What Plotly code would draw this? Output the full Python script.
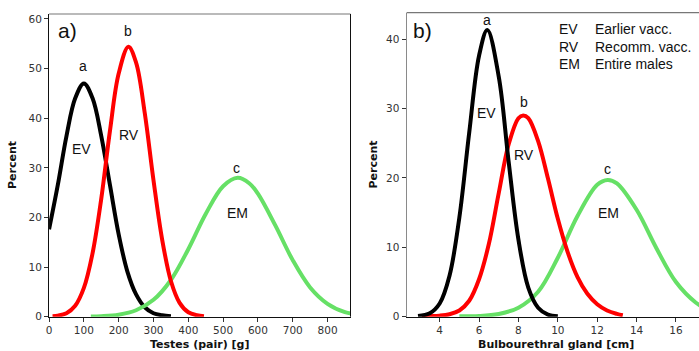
import plotly.graph_objects as go

# ---------------- data ----------------
# Panel a: testes (pair) weight [g] vs percent
a_ev_x = [0, 25, 50, 75, 100, 125, 150, 175, 200, 225, 250, 275, 300, 325, 350]
a_ev_y = [17.6, 26.5, 36.4, 44.0, 47.0, 44.0, 36.4, 26.5, 16.6, 9.1, 4.5, 1.9, 0.7, 0.3, 0.1]

a_rv_x = [10, 25, 50, 75, 100, 125, 150, 175, 200, 228, 250, 275, 300, 325, 350, 375, 400, 425, 445]
a_rv_y = [0.1, 0.2, 0.7, 2.2, 5.8, 12.8, 23.8, 37.5, 49.0, 54.4, 51.2, 41.0, 27.5, 15.5, 7.2, 2.8, 0.9, 0.3, 0.1]

a_em_x = [120, 150, 200, 250, 300, 350, 400, 450, 500, 542, 575, 600, 650, 700, 750, 800, 850, 870]
a_em_y = [0.05, 0.1, 0.4, 1.3, 3.4, 7.4, 13.6, 20.7, 26.3, 28.0, 26.9, 24.8, 18.4, 11.4, 5.9, 2.6, 0.9, 0.6]

# Panel b: bulbourethral gland length [cm] vs percent
b_ev_x = [2.9, 3.5, 4.0, 4.5, 5.0, 5.5, 6.0, 6.42, 7.0, 7.5, 8.0, 8.5, 9.0, 9.5, 10.0]
b_ev_y = [0.1, 0.5, 1.9, 5.9, 14.3, 26.5, 37.6, 41.3, 34.6, 22.4, 11.1, 4.2, 1.3, 0.3, 0.05]

b_rv_x = [3.1, 3.5, 4.0, 4.5, 5.0, 5.5, 6.0, 6.5, 7.0, 7.5, 8.0, 8.24, 8.5, 9.0, 9.5, 10.0, 10.5, 11.0, 11.5, 12.0, 12.5, 13.0, 13.3]
b_rv_y = [0.1, 0.1, 0.15, 0.35, 0.9, 2.3, 5.4, 10.5, 17.8, 24.8, 28.6, 29.0, 28.6, 25.3, 19.9, 14.1, 9.3, 5.7, 3.3, 1.8, 0.9, 0.4, 0.2]

b_em_x = [5.0, 6.0, 7.0, 8.0, 9.0, 10.0, 11.0, 12.0, 12.53, 13.0, 14.0, 15.0, 16.0, 17.0, 17.5]
b_em_y = [0.05, 0.1, 0.4, 1.3, 3.6, 8.5, 14.5, 19.0, 19.7, 19.2, 15.4, 9.9, 5.0, 2.05, 1.2]

a_xticks = [0, 100, 200, 300, 400, 500, 600, 700, 800]
a_yticks = [0, 10, 20, 30, 40, 50, 60]
b_xticks = [4, 6, 8, 10, 12, 14, 16]
b_yticks = [0, 10, 20, 30, 40]

legend_codes = ["EV", "RV", "EM"]
legend_names = ["Earlier vacc.", "Recomm. vacc.", "Entire males"]

# ---------------- styling ----------------
BLACK = "#000000"
RED = "#ff0000"
GREEN = "#66e066"
LW = 4
TICKFONT = dict(family="DejaVu Sans", size=10.5, color="#333333")
LABFONT = dict(family="Liberation Sans, Arial", size=14, color="#111111")
W, H = 699, 351   # design canvas (figure fills the browser window)

def px(x):
    return x / W

def py(y):
    return (H - y) / H

fig = go.Figure()

def add_curve(x, y, color, xa, ya):
    fig.add_trace(go.Scatter(x=x, y=y, mode="lines", line=dict(color=color, width=LW, shape="spline", smoothing=1.0),
                             xaxis=xa, yaxis=ya, showlegend=False, hoverinfo="skip"))

add_curve(a_ev_x, a_ev_y, BLACK, "x", "y")
add_curve(a_em_x, a_em_y, GREEN, "x", "y")
add_curve(a_rv_x, a_rv_y, RED, "x", "y")
add_curve(b_em_x, b_em_y, GREEN, "x2", "y2")
add_curve(b_rv_x, b_rv_y, RED, "x2", "y2")
add_curve(b_ev_x, b_ev_y, BLACK, "x2", "y2")

axis_common = dict(showgrid=False, zeroline=False, showline=True, linewidth=1, mirror=False,
                   ticks="outside", ticklen=4, tickcolor="#333333", tickfont=TICKFONT)

fig.update_layout(
    autosize=True,
    margin=dict(l=0, r=0, t=0, b=0, autoexpand=False),
    paper_bgcolor="white", plot_bgcolor="white",
    xaxis=dict(domain=[px(49), px(350)], range=[0, 866], tickvals=a_xticks, anchor="y", linecolor="#111111", **axis_common),
    yaxis=dict(domain=[py(316.7), py(14)], range=[0, 61], tickvals=a_yticks, anchor="x", linecolor="#111111", **axis_common),
    xaxis2=dict(domain=[px(406), 1.0], range=[2.32, 17.22], tickvals=b_xticks, anchor="y2", linecolor="#111111", **axis_common),
    yaxis2=dict(domain=[py(316.7), py(12.7)], range=[0, 43.8], tickvals=b_yticks, anchor="x2", linecolor="#8a8a8a", **axis_common),
)

# frame pieces (top lines grey, right edge of panel a black)
shapes = [
    dict(type="line", xref="x domain", yref="y domain", x0=0, x1=1, y0=1, y1=1, line=dict(color="#777777", width=1.2)),
    dict(type="line", xref="x domain", yref="y domain", x0=1, x1=1, y0=0, y1=1, line=dict(color="#111111", width=1)),
    dict(type="line", xref="x2 domain", yref="y2 domain", x0=0, x1=1, y0=1, y1=1, line=dict(color="#777777", width=1.2)),
]

ann = []
def text(x, y, s, font, xanchor="center", yanchor="middle", textangle=0):
    ann.append(dict(x=px(x), y=py(y), xref="paper", yref="paper", text=s, showarrow=False,
                    font=font, xanchor=xanchor, yanchor=yanchor, textangle=textangle))

TITLEFONT = dict(family="DejaVu Sans", size=11, color="#111111")
# axis titles
text(199, 344, "<b>Testes (pair) [g]</b>", TITLEFONT)
text(555, 344, "<b>Bulbourethral gland [cm]</b>", TITLEFONT)
text(12, 165, "<b>Percent</b>", TITLEFONT, textangle=-90)
text(372, 165, "<b>Percent</b>", TITLEFONT, textangle=-90)

# panel labels
PANELFONT = dict(family="Liberation Sans, Arial", size=21, color="#111111")
text(56, 31, "a)", PANELFONT, xanchor="left")
text(410, 31, "b)", PANELFONT, xanchor="left")

# curve labels panel a
text(82.7, 66, "a", LABFONT)
text(127.7, 31, "b", LABFONT)
text(236, 168, "c", LABFONT)
text(81.7, 149, "EV", LABFONT)
text(129.3, 135, "RV", LABFONT)
text(236.7, 213, "EM", LABFONT)
# curve labels panel b
text(486.7, 20, "a", LABFONT)
text(486, 112.7, "EV", LABFONT)
text(523.3, 102, "b", LABFONT)
text(523.3, 155, "RV", LABFONT)
text(606.7, 169, "c", LABFONT)
text(607.3, 213, "EM", LABFONT)

# legend text
rows_y = [29.3, 47.3, 64.3]
for code, name, yy in zip(legend_codes, legend_names, rows_y):
    text(556, yy, code, LABFONT, xanchor="left")
    text(592.5, yy, name, LABFONT, xanchor="left")

fig.update_layout(annotations=ann, shapes=shapes)

# make the page itself borderless so the figure fills the whole window
head_css = (
    "var s=document.createElement('style');"
    "s.textContent='html,body{margin:0;padding:0;overflow:hidden;}';"
    "document.head.appendChild(s);"
    "window.dispatchEvent(new Event('resize'));"
)
fig.write_html("out.html", config={"displayModeBar": False, "responsive": True},
               default_width="100vw", default_height="100vh", post_script=head_css)
